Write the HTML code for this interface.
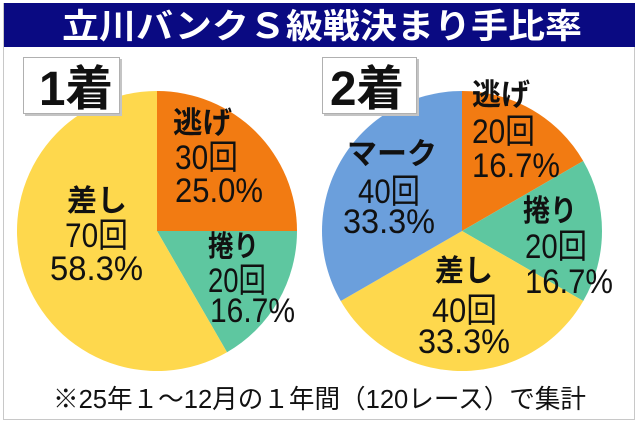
<!DOCTYPE html>
<html><head><meta charset="utf-8"><style>
html,body{margin:0;padding:0;background:#fff;}
svg{display:block;}
text{font-family:"Liberation Sans","Noto Sans CJK JP",sans-serif;fill:#111;}
.b{font-weight:bold;}
</style></head><body>
<svg width="640" height="427" viewBox="0 0 640 427" xmlns="http://www.w3.org/2000/svg">
<rect x="0" y="0" width="640" height="427" fill="#fff"/>
<rect x="3.5" y="3.5" width="631" height="416" fill="#fff" stroke="#c8c8c8" stroke-width="1"/>
<rect x="4" y="3" width="631" height="44" fill="#0a0a82"/>
<text x="62" y="38" font-size="34" class="b" style="fill:#fff" textLength="520" lengthAdjust="spacingAndGlyphs">立川バンクＳ級戦決まり手比率</text>

<!-- Pie 1 -->
<path d="M157,231 L157,91 A140,140 0 0 1 297,231 Z" fill="#f27b12"/>
<path d="M157,231 L297,231 A140,140 0 0 1 227,352.24 Z" fill="#5ec7a0"/>
<path d="M157,231 L227,352.24 A140,140 0 1 1 157,91 Z" fill="#fed84d"/>

<!-- Pie 2 -->
<path d="M462,231 L462,91 A140,140 0 0 1 583.24,161 Z" fill="#f27b12"/>
<path d="M462,231 L583.24,161 A140,140 0 0 1 583.24,301 Z" fill="#5ec7a0"/>
<path d="M462,231 L583.24,301 A140,140 0 0 1 340.76,301 Z" fill="#fed84d"/>
<path d="M462,231 L340.76,301 A140,140 0 0 1 462,91 Z" fill="#6b9fdc"/>

<!-- boxes -->
<rect x="25" y="59" width="97" height="57" fill="#c4c4c4"/>
<rect x="23.5" y="57.5" width="96" height="56" fill="#fff" stroke="#b0b0b0" stroke-width="1"/>
<text x="39" y="105" font-size="48" class="b" textLength="74" lengthAdjust="spacingAndGlyphs">1着</text>

<rect x="324" y="59" width="95" height="57" fill="#c4c4c4"/>
<rect x="322.5" y="57.5" width="94" height="56" fill="#fff" stroke="#b0b0b0" stroke-width="1"/>
<text x="330" y="105" font-size="48" class="b" textLength="74" lengthAdjust="spacingAndGlyphs">2着</text>

<!-- Pie 1 labels -->
<text x="173" y="133" font-size="30" class="b" textLength="59" lengthAdjust="spacingAndGlyphs">逃げ</text>
<text x="175" y="169" font-size="34" textLength="63" lengthAdjust="spacingAndGlyphs">30回</text>
<text x="175" y="202" font-size="34" textLength="88" lengthAdjust="spacingAndGlyphs">25.0%</text>

<text x="208" y="256" font-size="29" class="b" textLength="51" lengthAdjust="spacingAndGlyphs">捲り</text>
<text x="208" y="292" font-size="34" textLength="58" lengthAdjust="spacingAndGlyphs">20回</text>
<text x="210" y="322" font-size="34" textLength="85" lengthAdjust="spacingAndGlyphs">16.7%</text>

<text x="67" y="211" font-size="30" class="b" textLength="60" lengthAdjust="spacingAndGlyphs">差し</text>
<text x="65" y="247" font-size="34" textLength="63" lengthAdjust="spacingAndGlyphs">70回</text>
<text x="50" y="280" font-size="34" textLength="93" lengthAdjust="spacingAndGlyphs">58.3%</text>

<!-- Pie 2 labels -->
<text x="472" y="105" font-size="30" class="b" textLength="58" lengthAdjust="spacingAndGlyphs">逃げ</text>
<text x="472" y="143" font-size="34" textLength="63" lengthAdjust="spacingAndGlyphs">20回</text>
<text x="472" y="177" font-size="34" textLength="88" lengthAdjust="spacingAndGlyphs">16.7%</text>

<text x="347" y="164" font-size="30" class="b" textLength="90" lengthAdjust="spacingAndGlyphs">マーク</text>
<text x="358" y="203" font-size="34" textLength="62" lengthAdjust="spacingAndGlyphs">40回</text>
<text x="343" y="233" font-size="34" textLength="92" lengthAdjust="spacingAndGlyphs">33.3%</text>

<text x="523" y="221" font-size="30" class="b" textLength="54" lengthAdjust="spacingAndGlyphs">捲り</text>
<text x="525" y="258" font-size="34" textLength="62" lengthAdjust="spacingAndGlyphs">20回</text>
<text x="525" y="293" font-size="34" textLength="88" lengthAdjust="spacingAndGlyphs">16.7%</text>

<text x="435" y="281" font-size="30" class="b" textLength="58" lengthAdjust="spacingAndGlyphs">差し</text>
<text x="432" y="322" font-size="34" textLength="65" lengthAdjust="spacingAndGlyphs">40回</text>
<text x="418" y="353" font-size="34" textLength="92" lengthAdjust="spacingAndGlyphs">33.3%</text>

<!-- footer -->
<text x="53" y="408" font-size="26" textLength="533" lengthAdjust="spacingAndGlyphs">※25年１～12月の１年間（120レース）で集計</text>
</svg>
</body></html>
